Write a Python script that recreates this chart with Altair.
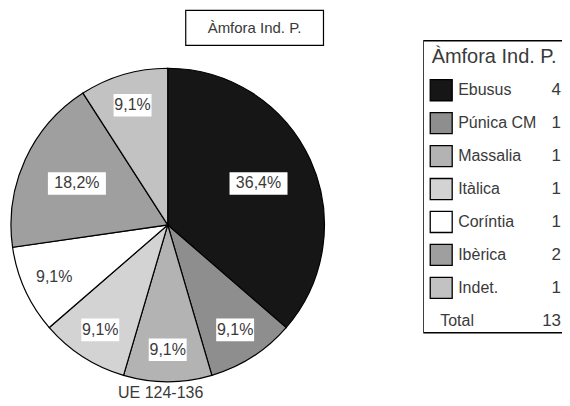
import altair as alt
import pandas as pd

# ---- data ----
categories = ["Ebusus", "Púnica CM", "Massalia", "Itàlica", "Coríntia", "Ibèrica", "Indet."]
counts = [4, 1, 1, 1, 1, 2, 1]
percent_labels = ["36,4%", "9,1%", "9,1%", "9,1%", "9,1%", "18,2%", "9,1%"]
total_text = "Total"
total_value = "13"
chart_title = "Àmfora Ind. P."
caption = "UE 124-136"

# ---- styles ----
colors = ["#161616", "#8e8e8e", "#b3b3b3", "#d3d3d3", "#ffffff", "#9f9f9f", "#c2c2c2"]
FONT = "Liberation Sans"
TXT = "#3a3a3a"

df = pd.DataFrame({"cat": categories, "n": counts, "label": percent_labels,
                   "idx": list(range(len(categories)))})
one = pd.DataFrame({"t": [chart_title]})

color_scale = alt.Scale(domain=categories, range=colors)

# ---- pie panel ----
xs = alt.Scale(domain=[-1.0127, 1.0255], nice=False, zero=False)
ys = alt.Scale(domain=[-1.102, 1.382], nice=False, zero=False)

pie_base = alt.Chart(df).transform_window(
    cum="sum(n)", sort=[alt.SortField("idx")]
).transform_joinaggregate(
    tot="sum(n)"
).transform_calculate(
    a0="2*PI*(datum.cum-datum.n)/datum.tot",
    a1="2*PI*datum.cum/datum.tot",
).transform_calculate(
    am="(datum.a0+datum.a1)/2",
    lr="datum.n>=2 ? 0.637 : 0.796",
    hw="length(datum.label)>4 ? 0.185 : 0.121",
).transform_calculate(
    lx="datum.lr*sin(datum.am)",
    ly="datum.lr*cos(datum.am)",
)

arcs = pie_base.mark_arc(radius=157, stroke="black", strokeWidth=1.2).encode(
    x=alt.XDatum(0, type="quantitative", scale=xs, axis=None),
    y=alt.YDatum(0, type="quantitative", scale=ys, axis=None),
    theta=alt.Theta("a0:Q", scale=None),
    theta2="a1:Q",
    color=alt.Color("cat:N", scale=color_scale, legend=None),
)

label_bg = pie_base.transform_calculate(
    bx0="datum.lx-datum.hw", bx1="datum.lx+datum.hw",
    by0="datum.ly-0.072", by1="datum.ly+0.072",
).mark_rect(fill="white", stroke=None).encode(
    x=alt.X("bx0:Q", scale=xs, axis=None), x2="bx1:Q",
    y=alt.Y("by0:Q", scale=ys, axis=None), y2="by1:Q",
)

labels = pie_base.mark_text(font=FONT, fontSize=16, color=TXT,
                            align="center", baseline="middle").encode(
    x=alt.X("lx:Q", scale=xs, axis=None),
    y=alt.Y("ly:Q", scale=ys, axis=None),
    text="label:N",
)

title_box = alt.Chart(one).mark_rect(fill="white", stroke="black", strokeWidth=1.2).encode(
    x=alt.XDatum(0.115, type="quantitative"), x2=alt.X2Datum(0.994),
    y=alt.YDatum(1.146, type="quantitative"), y2=alt.Y2Datum(1.369),
)
title_text = alt.Chart(one).mark_text(font=FONT, fontSize=15, color=TXT,
                                      align="center", baseline="middle").encode(
    x=alt.XDatum(0.554, type="quantitative"),
    y=alt.YDatum(1.258, type="quantitative"),
    text="t:N",
)
caption_text = alt.Chart(one).mark_text(font=FONT, fontSize=16, color=TXT,
                                        align="center", baseline="middle").encode(
    x=alt.XDatum(-0.045, type="quantitative"),
    y=alt.YDatum(-1.07, type="quantitative"),
    text=alt.value(caption),
)

pie = alt.layer(arcs, label_bg, labels, title_box, title_text, caption_text).properties(
    width=320, height=390
)

# ---- legend panel ----
xl = alt.Scale(domain=[0, 139], nice=False, zero=False)
yl = alt.Scale(domain=[-1.485, 10.333], nice=False, zero=False, reverse=True)

leg_base = alt.Chart(df).transform_calculate(
    row="datum.idx+1", r0="datum.idx+1-0.32", r1="datum.idx+1+0.32"
)

box = alt.Chart(one).mark_rect(fill="white", stroke="black", strokeWidth=1.5, clip=True).encode(
    x=alt.XDatum(0, type="quantitative", scale=xl, axis=None), x2=alt.X2Datum(160),
    y=alt.YDatum(-0.5, type="quantitative", scale=yl, axis=None), y2=alt.Y2Datum(8.36),
)
swatches = leg_base.mark_rect(stroke="black", strokeWidth=1.3).encode(
    x=alt.XDatum(7, type="quantitative"), x2=alt.X2Datum(29),
    y=alt.Y("r0:Q", scale=yl, axis=None), y2="r1:Q",
    color=alt.Color("cat:N", scale=color_scale, legend=None),
)
names = leg_base.mark_text(font=FONT, fontSize=16, color=TXT, align="left", baseline="middle").encode(
    x=alt.XDatum(35, type="quantitative"),
    y=alt.Y("row:Q", scale=yl, axis=None),
    text="cat:N",
)
values = leg_base.mark_text(font=FONT, fontSize=17, color=TXT, align="right", baseline="middle").encode(
    x=alt.XDatum(138, type="quantitative"),
    y=alt.Y("row:Q", scale=yl, axis=None),
    text="n:Q",
)
leg_title = alt.Chart(one).mark_text(font=FONT, fontSize=20, color=TXT, align="center", baseline="middle").encode(
    x=alt.XDatum(71, type="quantitative"),
    y=alt.YDatum(0, type="quantitative"),
    text="t:N",
)
tot_lab = alt.Chart(one).mark_text(font=FONT, fontSize=16, color=TXT, align="left", baseline="middle").encode(
    x=alt.XDatum(17, type="quantitative"),
    y=alt.YDatum(8, type="quantitative"),
    text=alt.value(total_text),
)
tot_val = alt.Chart(one).mark_text(font=FONT, fontSize=17, color=TXT, align="right", baseline="middle").encode(
    x=alt.XDatum(138, type="quantitative"),
    y=alt.YDatum(8, type="quantitative"),
    text=alt.value(total_value),
)

legend = alt.layer(box, swatches, names, values, leg_title, tot_lab, tot_val).properties(
    width=139, height=390
)

chart = alt.hconcat(pie, legend, spacing=95).properties(
    padding=0, background="white"
).configure_view(stroke=None).resolve_scale(color="shared")

chart.save("out.html", embed_options={"renderer": "svg", "actions": False})
